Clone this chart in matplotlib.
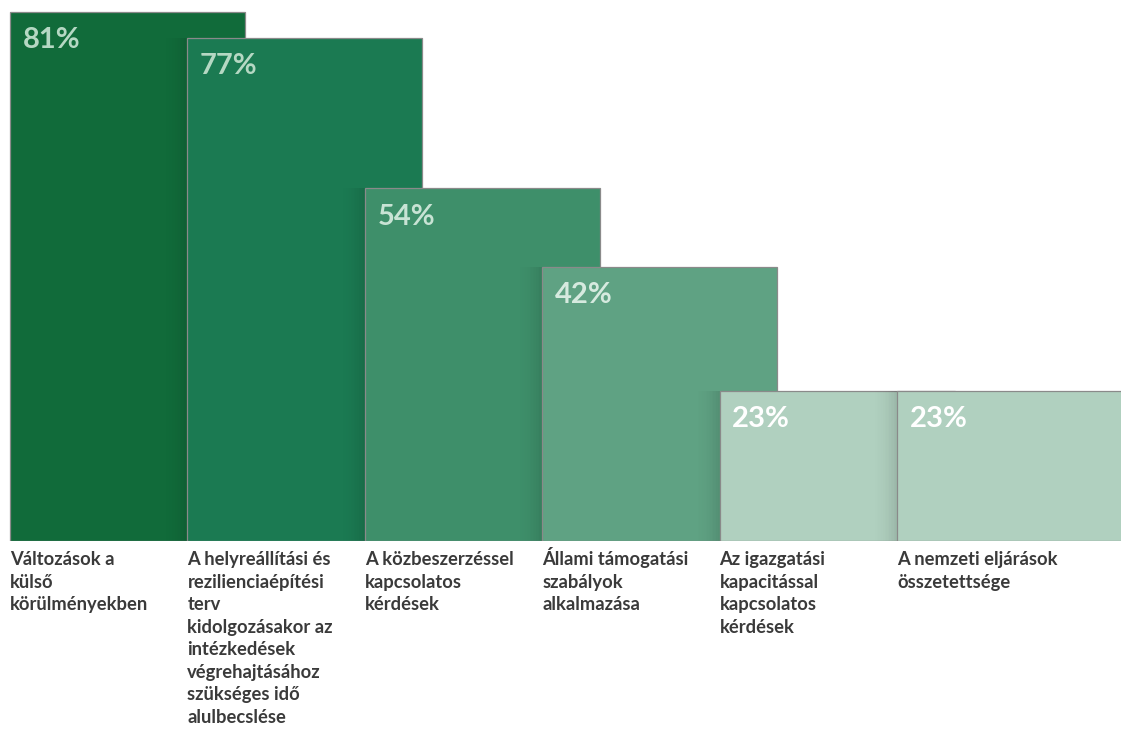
import matplotlib
matplotlib.use("Agg")
import matplotlib.pyplot as plt
import numpy as np

categories = [
    "Változások a\nkülső\nkörülményekben",
    "A helyreállítási és\nrezilienciaépítési\nterv\nkidolgozásakor az\nintézkedések\nvégrehajtásához\nszükséges idő\nalulbecslése",
    "A közbeszerzéssel\nkapcsolatos\nkérdések",
    "Állami támogatási\nszabályok\nalkalmazása",
    "Az igazgatási\nkapacitással\nkapcsolatos\nkérdések",
    "A nemzeti eljárások\nösszetettsége",
]
values = [81, 77, 54, 42, 23, 23]
labels = ["81%", "77%", "54%", "42%", "23%", "23%"]
bar_colors = ["#116b3a", "#1b7a52", "#3e8f6a", "#5fa283", "#b0d0bf", "#b0d0bf"]
text_colors = ["#b5d8c3", "#b5d8c3", "#c8e3d4", "#d6eadf", "#ffffff", "#ffffff"]

FAM = ["Lato", "DejaVu Sans"]

fig = plt.figure(figsize=(11.21, 7.29), dpi=100)
ax = fig.add_axes([0, 188 / 729, 1, 541 / 729])

x = np.arange(len(values))
width = 1.325
ax.set_xlim(-0.0564, 6.263)
ax.set_ylim(0, 541 / 6.53)

for i in x:
    ax.bar(i, values[i], width=width, align="edge", color=bar_colors[i],
           edgecolor="#8a8a8a", linewidth=0.9, zorder=2 * i + 2)
    # soft shadow cast by this bar onto the previous one
    if i > 0:
        h = min(values[i - 1], values[i])
        n = 16
        sw = 0.14
        for k in range(n):
            a = 0.11 * ((k + 1) / n) ** 2
            ax.bar(i - sw + k * sw / n, h, width=sw / n, align="edge",
                   color="black", alpha=a, linewidth=0, zorder=2 * i + 1)
    ax.annotate(labels[i], xy=(i, values[i]), xytext=(9, -11),
                textcoords="offset points", ha="left", va="top",
                fontsize=21, fontweight="bold", color=text_colors[i],
                family=FAM, zorder=20)
    for j, line in enumerate(categories[i].split("\n")):
        ax.annotate(line, xy=(i, 0), xytext=(0, -17.5 - 16.2 * j),
                    textcoords="offset points", ha="left", va="baseline",
                    fontsize=13.2, fontweight="bold", color="#3a3a3a",
                    family=FAM, annotation_clip=False, zorder=20)

ax.axis("off")
fig.savefig("out.png", dpi=100)
